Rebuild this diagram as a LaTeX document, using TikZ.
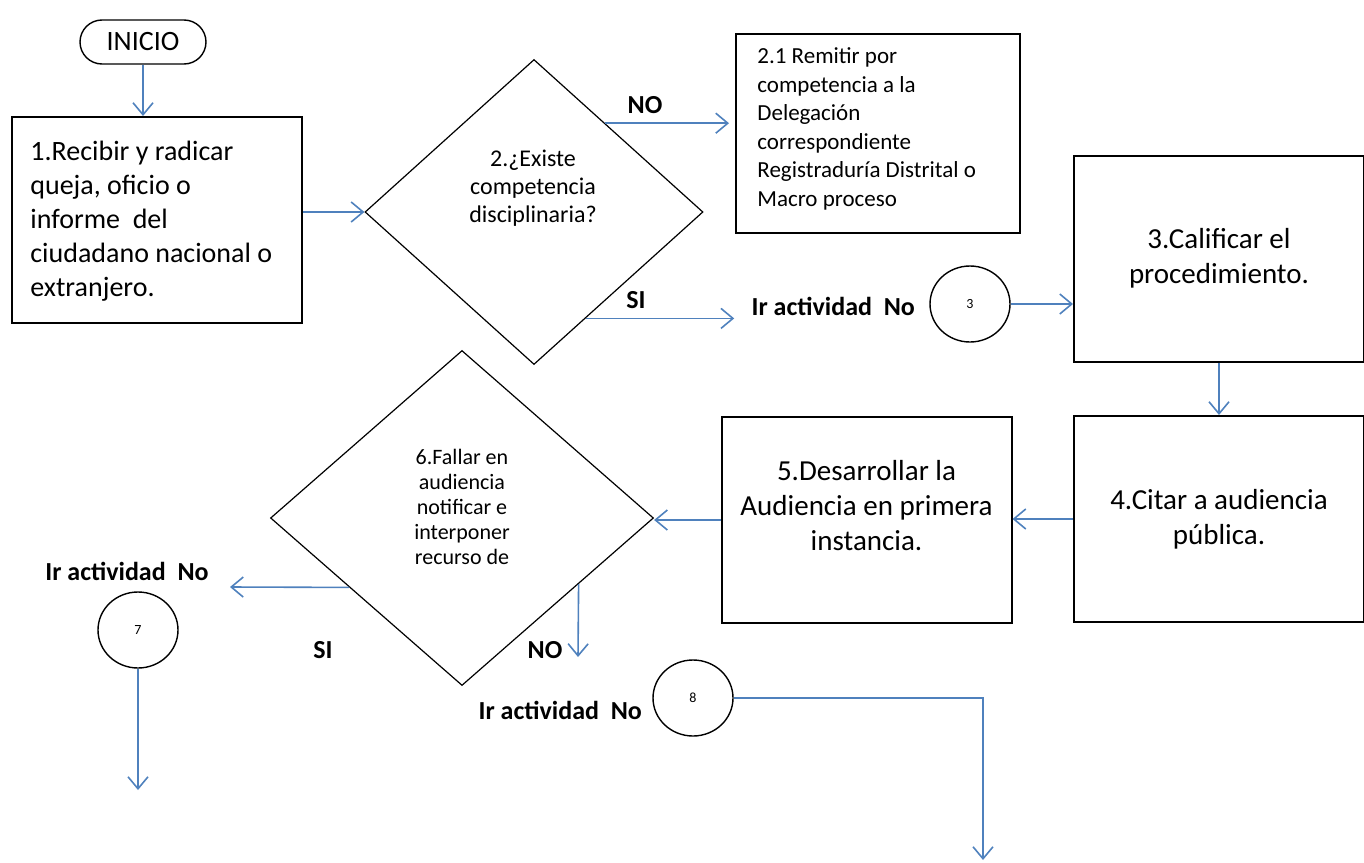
\documentclass[tikz,border=0pt]{standalone}
\usepackage{fontspec}
\setmainfont{Carlito}
\usetikzlibrary{calc}
\usetikzlibrary{positioning}
\usetikzlibrary{shapes.geometric}
\usetikzlibrary{arrows.meta}
\definecolor{flowblue}{RGB}{79,129,189}
\tikzstyle{actnode} = [draw, rectangle, line width=1pt, inner sep=0pt]
\tikzstyle{bigbox} = [actnode, minimum width=145pt, minimum height=103pt, align=center, font=\fontsize{14.5}{17.5}\selectfont]
\tikzstyle{decnode} = [draw, diamond, line width=0.6pt, inner sep=0pt]
\tikzstyle{connode} = [draw, ellipse, line width=0.7pt, minimum width=40pt, minimum height=38pt, inner sep=0pt, font=\fontsize{7}{8}\selectfont]
\tikzstyle{gonode} = [inner sep=0pt, font=\fontsize{13}{15}\selectfont\bfseries]
\tikzstyle{lblnode} = [inner sep=0pt, font=\fontsize{13}{15}\selectfont\bfseries]
\tikzstyle{flow} = [->, flowblue, line width=0.8pt]

\begin{document}
\begin{tikzpicture}[x=0.5pt, y=-0.5pt, >={Straight Barb[length=6pt,width=10pt]}]
  \useasboundingbox (0,0) rectangle (1364,862);

  \node[draw, rounded corners=11pt, line width=0.7pt, minimum width=63pt, minimum height=22pt, font=\fontsize{14}{16}\selectfont] (inicio) at (143,42) {INICIO};
  \node[actnode, minimum width=145pt, minimum height=103pt] (recibir) at (157,220) {};
  \node[anchor=west, inner sep=0pt, align=left, font=\fontsize{14}{17}\selectfont] (recibirtxt) at (30,221) {1.Recibir y radicar\\ queja, oficio o\\ informe\ \ del\\ ciudadano nacional o\\ extranjero.};

  \node[decnode, minimum width=169pt, minimum height=152.5pt] (existe) at (534,212) {};
  \node[align=center, inner sep=0pt, font=\fontsize{12}{14}\selectfont] (existetxt) at (533,188) {2.¿Existe\\ competencia\\ disciplinaria?};
  \node[actnode, minimum width=142pt, minimum height=99.5pt] (remitir) at (878,133.5) {};
  \node[anchor=west, inner sep=0pt, align=left, font=\fontsize{11.5}{14.3}\selectfont] (remitirtxt) at (757,129) {2.1 Remitir por\\ competencia a la\\ Delegación\\ correspondiente\\ Registraduría Distrital o\\ Macro proceso};

  \node[connode] (c3) at (970,304) {3};
  \node[gonode, left=7pt of c3, yshift=-1pt] (go3) {Ir actividad\ \ No};
  \node[bigbox] (calificar) at (1219,258.5) {3.Calificar el\\ procedimiento.};
  \node[bigbox] (citar) at (1219,519) {4.Citar a audiencia\\ pública.};
  \node[bigbox] (desarrollar) at (866.5,520) {};
  \node[align=center, inner sep=0pt, font=\fontsize{14.5}{17.5}\selectfont] (desarrollartxt) at (866.5,506) {5.Desarrollar la\\ Audiencia en primera\\ instancia.};

  \node[decnode, minimum width=191.5pt, minimum height=167.5pt] (fallar) at (462,518) {};
  \node[align=center, inner sep=0pt, font=\fontsize{11}{12.5}\selectfont] (fallartxt) at (462,507) {6.Fallar en\\ audiencia\\ notificar e\\ interponer\\ recurso de};

  \node[connode] (c7) at (138,630) {7};
  \node[gonode, above=5pt of c7, xshift=-5.5pt] (go7) {Ir actividad\ \ No};
  \node[connode] (c8) at (693,698) {8};
  \node[gonode, left=5pt of c8, yshift=-6pt] (go8) {Ir actividad\ \ No};

  \node[lblnode] (no2) at (645,105) {NO};
  \node[lblnode] (si2) at (636,300) {SI};
  \node[lblnode] (si6) at (323,650) {SI};
  \node[lblnode] (no6) at (545,650) {NO};

  \coordinate (noout) at ($(existe.north)!0.42!(existe.east)$);
  \coordinate (siout) at ($(existe.east)!0.695!(existe.south)$);
  \coordinate (siend) at ($(siout -| go3.west)+(-17,0)$);
  \coordinate (si6out) at ($(fallar.west)!0.413!(fallar.south)$);
  \coordinate (si6end) at (230,587);
  \coordinate (no6out) at ($(fallar.east)!0.393!(fallar.south)$);
  \coordinate (no6end) at (578,657);
  \coordinate (c7end) at (138,790);
  \coordinate (c8turn) at (983,698);
  \coordinate (c8end) at (983,860);

  \draw[flow] (inicio.south) -- (inicio.south |- recibir.north);
  \draw[flow] (recibir.east |- existe.west) -- (existe.west);
  \draw[flow, shorten >=3pt] (noout) -- (noout -| remitir.west);
  \draw[flow] (siout) -- (siend);
  \draw[flow] (c3.east) -- (c3.east -| calificar.west);
  \draw[flow] (calificar.south) -- (citar.north);
  \draw[flow] (citar.west) -- (citar.west -| desarrollar.east);
  \draw[flow] (desarrollar.west) -- (desarrollar.west -| fallar.east);
  \draw[flow] (si6out) -- (si6end);
  \draw[flow] (no6out) -- (no6end);
  \draw[flow] (c7.south) -- (c7end);
  \draw[flow] (c8.east) -- (c8turn) -- (c8end);
\end{tikzpicture}
\end{document}
